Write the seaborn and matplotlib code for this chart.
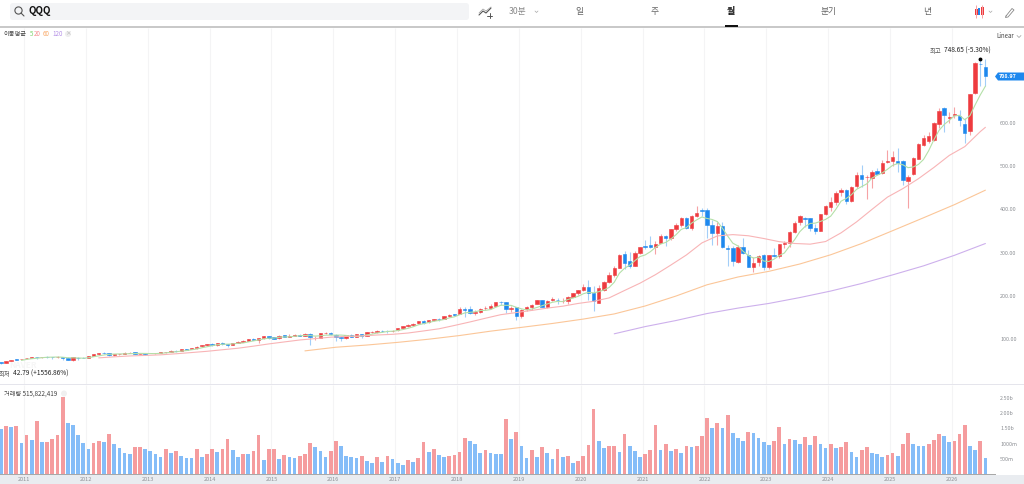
import numpy as np
import pandas as pd
import matplotlib
matplotlib.use("Agg")
import matplotlib.pyplot as plt
from matplotlib.patches import FancyBboxPatch, Circle, Polygon, Rectangle
import seaborn as sns

sns.set_theme(style="white")
plt.rcParams['font.family'] = ['Noto Sans CJK KR', 'DejaVu Sans']

# monthly candles, Aug 2010 .. Jul 2026
opens = [47.0,44.5,49.3,52.6,52.8,
         55.0,56.2,57.5,57.7,59.2,58.4,57.4,59.1,55.6,51.9,56.9,57.0,
         56.4,60.6,64.5,67.8,67.3,62.8,64.8,65.4,68.3,68.9,65.0,66.8,
         67.3,67.2,67.9,68.9,70.8,73.0,72.1,76.0,75.9,78.9,82.9,85.6,
         88.0,86.9,91.1,88.1,87.0,91.1,94.0,95.4,100.0,98.5,101.9,105.9,
         103.7,101.6,108.2,104.6,108.0,109.9,106.9,111.5,101.5,102.2,113.6,114.4,
         109.0,103.5,101.5,109.0,105.0,110.5,108.0,115.9,117.2,118.9,118.3,118.4,
         120.0,125.0,130.0,132.5,136.0,141.8,138.3,143.9,146.8,146.1,153.6,157.0,
         158.0,170.0,168.5,159.6,162.1,171.5,171.0,177.0,185.9,186.3,170.5,174.3,
         152.9,168.5,174.1,180.5,190.0,174.1,190.0,191.0,187.0,188.9,198.0,206.0,
         214,221,206,184,213,231,247,265,297,280,270,300,
         315,318,313,323,338,333,354,364,380,358,385,398,
         398,363,345,361,310,310,278,313,294,267,278,294,
         267,294,293,320,322,347,370,380,381,358,351,389,
         405,417,440,445,420,453,479,475,473,488,485,510,
         513,512,511,466,482,517,549,558,560,597,635,612,
         619,616,597,581,669,737,729]
highs = [47.5,49.5,52.5,53.9,54.8,
         56.6,58.5,58.0,59.4,60.1,58.5,60.6,59.2,58.3,58.6,58.0,57.7,
         60.6,64.4,68.3,69.0,67.3,64.6,66.0,68.9,70.6,69.2,66.0,67.3,
         68.3,68.3,69.2,71.0,74.3,74.3,76.3,77.4,79.8,83.2,85.9,88.3,
         89.6,91.8,93.1,89.3,91.1,94.3,97.7,99.8,102.0,101.9,106.3,107.1,
         104.3,108.5,110.3,110.7,112.0,111.7,114.4,113.0,107.0,114.0,116.0,116.0,
         110.5,106.6,109.8,111.0,111.3,112.0,116.1,118.0,119.9,120.3,120.0,121.0,
         125.0,130.5,133.6,136.0,142.0,144.5,145.0,147.3,148.0,153.0,157.0,158.0,
         174.9,172.9,177.0,167.8,171.5,177.5,180.3,186.1,187.5,186.7,177.0,174.6,
         169.0,175.4,181.3,191.0,191.0,190.0,198.0,194.0,195.0,199.0,206.0,213.0,
         227,237,222,224,235,254,269,296,303,301,303,314,
         329,338,326,342,340,355,369,382,382,387,408,404,
         404,375,371,371,317,315,317,334,305,290,294,297,
         294,310,321,326,350,372,387,382,381,366,389,411,
         429,443,449,448,454,487,502,480,491,495,514,537,
         535,542,515,480,522,553,573,578,602,635,638,626,
         636,630,611,668,742,748.65,747]
lows = [42.79,44.4,48.9,51.3,52.7,
        54.4,55.9,53.9,56.4,56.9,54.6,57.0,50.5,51.9,49.9,52.2,54.9,
        56.3,60.4,63.9,64.8,61.6,59.8,62.2,64.9,67.7,64.6,61.8,63.8,
        66.9,66.0,67.2,67.2,70.6,68.9,71.5,74.7,75.8,76.5,81.7,84.3,
        84.3,84.5,85.7,82.4,85.4,90.1,93.8,94.3,97.3,90.8,100.9,99.8,
        99.1,100.7,104.0,104.2,105.8,106.8,105.9,85.0,98.0,101.2,112.0,109.9,
        96.0,94.5,100.4,104.0,104.0,102.4,107.6,115.0,115.0,116.6,113.0,117.0,
        119.6,124.7,128.0,129.5,135.5,134.9,137.0,141.0,142.0,145.7,150.1,153.2,
        157.6,150.4,157.0,156.6,159.7,167.6,170.3,175.5,178.0,159.7,161.4,143.5,
        148.3,165.0,168.0,180.4,173.2,172.0,189.0,180.0,184.0,180.0,197.0,201.0,
        211,190,165,183,212,229,243,264,262,265,268,296,
        309,311,297,322,316,330,351,360,355,352,382,384,
        333,317,317,311,269,269,277,296,266,255,270,259,
        261,290,287,311,313,345,365,360,350,343,350,387,
        396,410,431,413,418,450,452,424,449,482,482,508,
        500,487,456,403,480,516,547,554,558,589,580,601,
        611,593,554,572,667,686,686]
closes = [44.3,49.1,52.2,52.1,54.5,
          55.6,57.5,57.4,59.1,58.7,57.2,58.9,55.1,52.5,57.7,56.4,55.8,
          60.4,64.2,67.5,67.1,62.6,64.2,65.1,68.6,68.6,65.0,65.9,65.1,
          67.0,67.6,69.0,70.5,73.1,71.2,75.9,75.4,78.9,82.5,85.7,88.0,
          86.5,90.9,87.7,87.0,90.7,93.9,94.9,99.6,98.8,101.4,106.1,103.2,
          101.0,108.0,105.6,107.4,109.7,106.9,111.2,103.9,101.8,113.4,113.9,111.9,
          103.9,101.9,109.2,105.0,110.5,107.5,115.6,117.0,118.7,117.7,117.9,118.5,
          124.7,130.0,132.4,135.7,141.2,137.6,143.6,146.6,145.5,152.9,156.0,155.8,
          169.7,167.2,160.1,161.7,170.3,171.7,176.7,186.0,185.8,169.8,170.9,154.3,
          168.2,173.4,179.7,189.6,173.9,188.8,193.0,189.7,188.8,196.9,205.8,212.6,
          219.5,205.5,189,218,232,248,265,294,277,269,299,313.7,
          314,314,319,338,333,354,364,380,358,385,392,397,
          363,346,361,313.6,308,280,314,299,266,277,293,267,
          294,293,319,322,347,369,385,378,358,351,389,408,
          416,438,444,420,451,479,470,476,487,482,508,511,
          522,507,468,475,519,551,565,570,600,628,619,614,
          621,607,576,667,738,736,708.97]

# traded volume in millions
volumes = [1491,1578,1545,1578,1019,1271,1107,1732,1041,1063,1162,1271,2532,1666,1622,1293,1019,833,1030,1085,
           1063,1315,975,866,680,647,877,899,822,756,658,570,833,701,745,592,537,515,822,559,
           658,833,734,822,1151,800,570,669,658,767,1293,449,822,833,493,636,570,515,592,647,
           1008,877,745,548,756,1074,932,592,559,526,581,416,373,548,406,592,493,362,296,449,
           395,526,1041,712,811,636,548,581,614,712,1184,1074,986,690,778,701,669,658,1808,1140,
           1392,932,526,778,548,899,680,493,811,559,581,351,427,581,954,2148,1074,844,921,925,
           712,1326,932,756,559,658,789,1622,778,975,745,811,690,932,877,921,1238,1852,1512,1677,
           1502,1940,1359,1184,1085,1370,1359,1195,1052,954,1096,1534,986,1151,1129,975,1206,954,1238,975,
           866,975,866,899,1063,723,548,800,899,690,658,559,636,680,581,986,1359,986,910,905,
           975,1129,1326,1238,1052,1074,1304,1622,921,800,1085,515.8]

# 5 month average, starts at the fifth candle
ma5 = [50.4,52.7,54.4,55.4,56.7,57.7,58.0,58.3,57.8,56.5,56.3,56.1,55.5,56.6,58.9,60.9,63.0,64.4,65.1,65.5,
       65.5,65.8,66.3,66.7,66.5,66.3,66.1,66.9,67.8,69.4,70.3,71.9,73.2,74.9,76.8,79.7,82.1,84.3,86.7,87.8,
       88.0,88.6,90.0,90.8,93.2,95.6,97.7,100.2,101.8,102.1,103.9,104.8,105.0,106.3,107.5,108.2,107.8,106.7,107.4,108.8,
       109.0,109.0,109.0,108.2,106.4,106.1,106.8,109.6,111.1,113.9,115.3,117.4,118.0,119.5,121.8,124.7,128.3,132.8,135.4,138.1,
       141.0,142.9,145.1,148.9,151.4,156.0,160.3,161.8,162.9,165.8,166.2,168.1,173.3,178.1,178.0,177.8,173.4,169.8,167.3,169.3,
       173.0,177.0,181.1,185.0,187.0,186.6,191.4,194.8,198.8,204.7,208.0,206.8,209.5,213.6,219.2,231.3,252.2,263.7,271.0,281.2,
       290.8,294.6,302.0,312.0,319.7,323.6,331.6,341.6,353.8,357.8,368.2,375.8,382.4,379.0,376.6,371.8,356.2,338.4,321.8,315.4,
       303.0,293.4,287.2,289.8,280.4,279.4,284.8,293.2,299.0,315.0,330.0,348.4,360.2,367.4,368.2,372.2,376.8,384.4,400.4,419.0,
       425.2,433.8,446.4,452.8,459.2,472.6,478.8,484.6,492.8,502.0,506.0,503.2,496.6,498.2,504.0,515.6,536.0,561.0,582.8,596.4,
       606.2,616.4,617.8,607.4,617.0,641.8,664.8,685.2]

ma20_idx = [19,22,25,28,31,34,37,40,43,46,49,52,55,58,61,64,67,70,73,76,79,82,85,88,91,94,97,100,103,106,109,112,
            115,118,121,124,127,130,133,136,139,142,145,148,151,154,157,160,163,166,169,172,175,178,181,184,187,190,191]
ma20 = [56.3,58.7,60.7,61.9,63.3,65.8,68.6,71.5,75.1,78.6,83.4,88.6,93.2,97.7,100.9,104.2,105.9,107.1,109.2,110.8,113.8,
        118.6,123.6,131.3,139.4,148.0,156.3,161.2,166.1,171.5,175.9,182.3,187.2,195.1,212.3,229.2,248.9,271.3,294.5,322.4,
        338.6,341.6,339.0,332.6,325.3,321.1,319.5,325.6,345.7,371.0,400.0,428.4,448.2,471.0,497.0,525.0,545.3,580.0,590.0]
ma60_idx = [59,65,71,77,83,89,95,101,107,113,119,125,131,137,143,149,155,161,167,173,179,185,191]
ma60 = [72.5,80.9,86.0,92.2,99.5,108.0,118.1,126.9,135.9,146.1,158.0,176.4,199.5,225.5,243.5,256.6,273.6,295.0,321.0,350.7,380.6,411.0,444.5]
ma120_idx = [119,125,131,137,143,149,155,161,167,173,179,185,191]
ma120 = [112.0,128.7,142.8,158.9,171.5,182.3,195.9,211.0,228.5,248.4,269.3,293.7,321.0]

price_ticks = [100, 200, 300, 400, 500, 600]
price_labels = ['100.00', '200.00', '300.00', '400.00', '500.00', '600.00']
vol_ticks = [500, 1000, 1500, 2000, 2500]
vol_labels = ['500m', '1000m', '1.50b', '2.00b', '2.50b']
years = ['2011', '2012', '2013', '2014', '2015', '2016', '2017', '2018',
         '2019', '2020', '2021', '2022', '2023', '2024', '2025', '2026']

UP = '#EE3B3F'
DOWN = '#1E88EE'
UP_WICK = '#F6A3A5'
DOWN_WICK = '#A3CEF8'
UP_VOL = '#F59C9E'
DOWN_VOL = '#85BDF8'
GRID = '#F4F4F5'
GRAY = '#8C8F94'

W, H = 1024, 484
fig = plt.figure(figsize=(W / 100, H / 100), dpi=100, facecolor='white')


def panel(left, top, right, bottom):
    return fig.add_axes([left / W, 1 - bottom / H, (right - left) / W, (bottom - top) / H])


candles = pd.DataFrame({'i': np.arange(len(closes)), 'o': opens, 'h': highs, 'l': lows, 'c': closes})
candles['up'] = candles.c >= candles.o
vols = pd.DataFrame({'i': np.arange(len(volumes)), 'vol': volumes})
vols['dir'] = np.where(vols.vol.diff().fillna(-1) >= 0, 'up', 'down')

xlim = (-0.155, 193.25)
year_pos = 4.5 + 12 * np.arange(len(years))

# price panel
ax = panel(0, 28, 997, 384)
ax.set_xlim(xlim)
ax.set_ylim(-4.2, 819.9)
ax.vlines(year_pos, -4.2, 819.9, color=GRID, lw=0.8, zorder=0)
ax.vlines(candles.i, candles.l, candles.h, lw=0.8, zorder=2,
          colors=np.where(candles.up, UP_WICK, DOWN_WICK))
ax.bar(candles.i, (candles.c - candles.o).abs(), bottom=candles[['o', 'c']].min(axis=1), width=0.66,
       color=np.where(candles.up, UP, DOWN), edgecolor=np.where(candles.up, UP, DOWN), linewidth=0.4, zorder=3)

sns.lineplot(x=candles.i[4:], y=ma5, ax=ax, color='#B4E0A8', lw=0.8, zorder=4, errorbar=None)
sns.lineplot(x=ma20_idx, y=ma20, ax=ax, color='#F8B4B6', lw=0.8, zorder=4, errorbar=None)
sns.lineplot(x=ma60_idx, y=ma60, ax=ax, color='#FBC698', lw=0.8, zorder=4, errorbar=None)
sns.lineplot(x=ma120_idx, y=ma120, ax=ax, color='#CDB0EC', lw=0.8, zorder=4, errorbar=None)
ax.plot([190], [748.65], marker='o', ms=1.8, color='black', zorder=5)

ax.set_xlim(xlim)
ax.set_ylim(-4.2, 819.9)
ax.set_xticks([])
ax.yaxis.tick_right()
ax.set_yticks(price_ticks, price_labels)
ax.tick_params(axis='y', length=0, pad=2.2, labelsize=3.9, labelcolor=GRAY)
ax.set(xlabel=None, ylabel=None)
sns.despine(ax=ax, left=True, bottom=True, right=True, top=True)

# volume panel, saturation and edge off so the bars keep their full colour and width
ax2 = panel(0, 385, 997, 474)
sns.barplot(data=vols, x='i', y='vol', hue='dir', palette={'up': UP_VOL, 'down': DOWN_VOL}, native_scale=True,
            dodge=False, width=0.72, saturation=1, linewidth=0, legend=False, ax=ax2, zorder=3, errorbar=None)
ax2.vlines(year_pos, 0, 2928, color=GRID, lw=0.8, zorder=0)
ax2.set_xlim(xlim)
ax2.set_ylim(0, 2928)
ax2.set_xticks([])
ax2.yaxis.tick_right()
ax2.set_yticks(vol_ticks, vol_labels)
ax2.tick_params(axis='y', length=0, pad=2.2, labelsize=3.9, labelcolor=GRAY)
ax2.set(xlabel=None, ylabel=None)
sns.despine(ax=ax2, left=True, bottom=True, right=True, top=True)

# page chrome in pixel coordinates
top = fig.add_axes([0, 0, 1, 1], zorder=10)
top.set_xlim(0, W)
top.set_ylim(H, 0)
top.axis('off')
top.patch.set_alpha(0)

top.add_patch(FancyBboxPatch((10, 3), 459, 17, boxstyle='round,pad=0,rounding_size=3', fc='#F3F4F6', ec='none'))
top.add_patch(Circle((18.5, 10.5), 3.6, fc='none', ec='#555555', lw=0.8))
top.plot([21, 24], [13, 16], color='#555555', lw=0.8)
top.text(28.5, 11, 'QQQ', fontsize=7, fontweight='bold', color='#111111', va='center')
top.plot([479, 483, 486, 491], [15, 11, 13, 8], color='#555555', lw=0.8)
top.plot([479, 483, 486, 491], [13, 9, 11, 7], color='#999999', lw=0.5)
top.plot([487, 492], [15.5, 15.5], color='#555555', lw=0.7)
top.plot([489.5, 489.5], [13, 18], color='#555555', lw=0.7)
top.text(518, 11.5, '30분', fontsize=6.3, color='#8A8A8A', ha='center', va='center')
top.plot([535, 536.5, 538], [11, 12.5, 11], color='#AAAAAA', lw=0.5)
for lab, xp in [('일', 579), ('주', 655), ('분기', 829), ('년', 927)]:
    top.text(xp, 11.5, lab, fontsize=6.3, color='#666666', ha='center', va='center')
top.text(731, 11.5, '월', fontsize=6.5, color='#111111', fontweight='bold', ha='center', va='center')

top.vlines([976, 982], 5, 18, color=[UP_WICK, UP_WICK], lw=0.7)
top.add_patch(Rectangle((974.5, 9), 3, 6, fc=UP, ec='none'))
top.add_patch(Rectangle((980.5, 7), 3, 8, fc=UP, ec='none'))
top.add_patch(Rectangle((977.7, 8), 2.5, 7, fc=DOWN, ec='none'))
top.plot([989, 990.5, 992], [11, 12.5, 11], color='#AAAAAA', lw=0.5)
top.plot([1006, 1012, 1014, 1008, 1005.5, 1006], [16, 8.5, 10, 17, 17.5, 16], color='#888888', lw=0.6)

top.add_patch(Rectangle((0, 26), W, 1.6, fc='#C9C9C9', ec='none'))
top.add_patch(Rectangle((725, 24.8), 13, 1.8, fc='#111111', ec='none'))
top.add_patch(Rectangle((0, 383.7), W, 1.2, fc='#E5E5EC', ec='none'))
top.add_patch(Rectangle((0, 475), W, 9, fc='#E9ECF0', ec='none'))
top.add_patch(Rectangle((0, 474), 996, 1.2, fc='#A8A8A8', ec='none'))

legend_bits = [('이동평균', 4, '#444444'), ('5', 29.5, '#7FD36F'), ('20', 34, '#F58D8F'),
               ('60', 43, '#F9A968'), ('120', 52, '#B48FE6')]
for lab, xp, col in legend_bits:
    top.text(xp, 34, lab, fontsize=4.5, color=col, va='center')
top.add_patch(Circle((68, 34), 3, fc='#EEEEEE', ec='none'))
top.text(68, 34, '×', fontsize=4, color='#AAAAAA', ha='center', va='center')
top.text(1014, 36, 'Linear', fontsize=4.4, color='#444444', ha='right', va='center')
top.plot([1017, 1019, 1021], [35.5, 37.5, 35.5], color='#999999', lw=0.5)

top.text(930, 50.5, '최고', fontsize=4.6, color='#555555', va='center')
top.text(944, 50.5, '748.65 (-5.30%)', fontsize=4.7, color='#222222', fontweight='medium', va='center')
top.text(-1, 374, '최저', fontsize=4.6, color='#555555', va='center')
top.text(13, 374, '42.79 (+1556.86%)', fontsize=4.7, color='#222222', fontweight='medium', va='center')
top.text(9, 366, 'NAVER', fontsize=6, color='#F6F6F6', fontweight='bold', va='center')
top.text(4, 393.5, '거래량 515,822,419', fontsize=4.5, color='#444444', va='center')
top.add_patch(Circle((64, 393.5), 3, fc='#F0F0F0', ec='none'))

top.add_patch(Polygon([(995, 76.5), (998, 72.5), (1024, 72.5), (1024, 80.5), (998, 80.5)], fc='#1E88EE', ec='none'))
top.text(1007.5, 76.5, '708.97', fontsize=3.9, color='white', fontweight='bold', ha='center', va='center')

for yr, pos in zip(years, year_pos):
    px = (pos - xlim[0]) / (xlim[1] - xlim[0]) * 997
    top.text(px, 479.8, yr, fontsize=4, color='#8E9196', ha='center', va='center')

fig.savefig('out.png', dpi=100)
